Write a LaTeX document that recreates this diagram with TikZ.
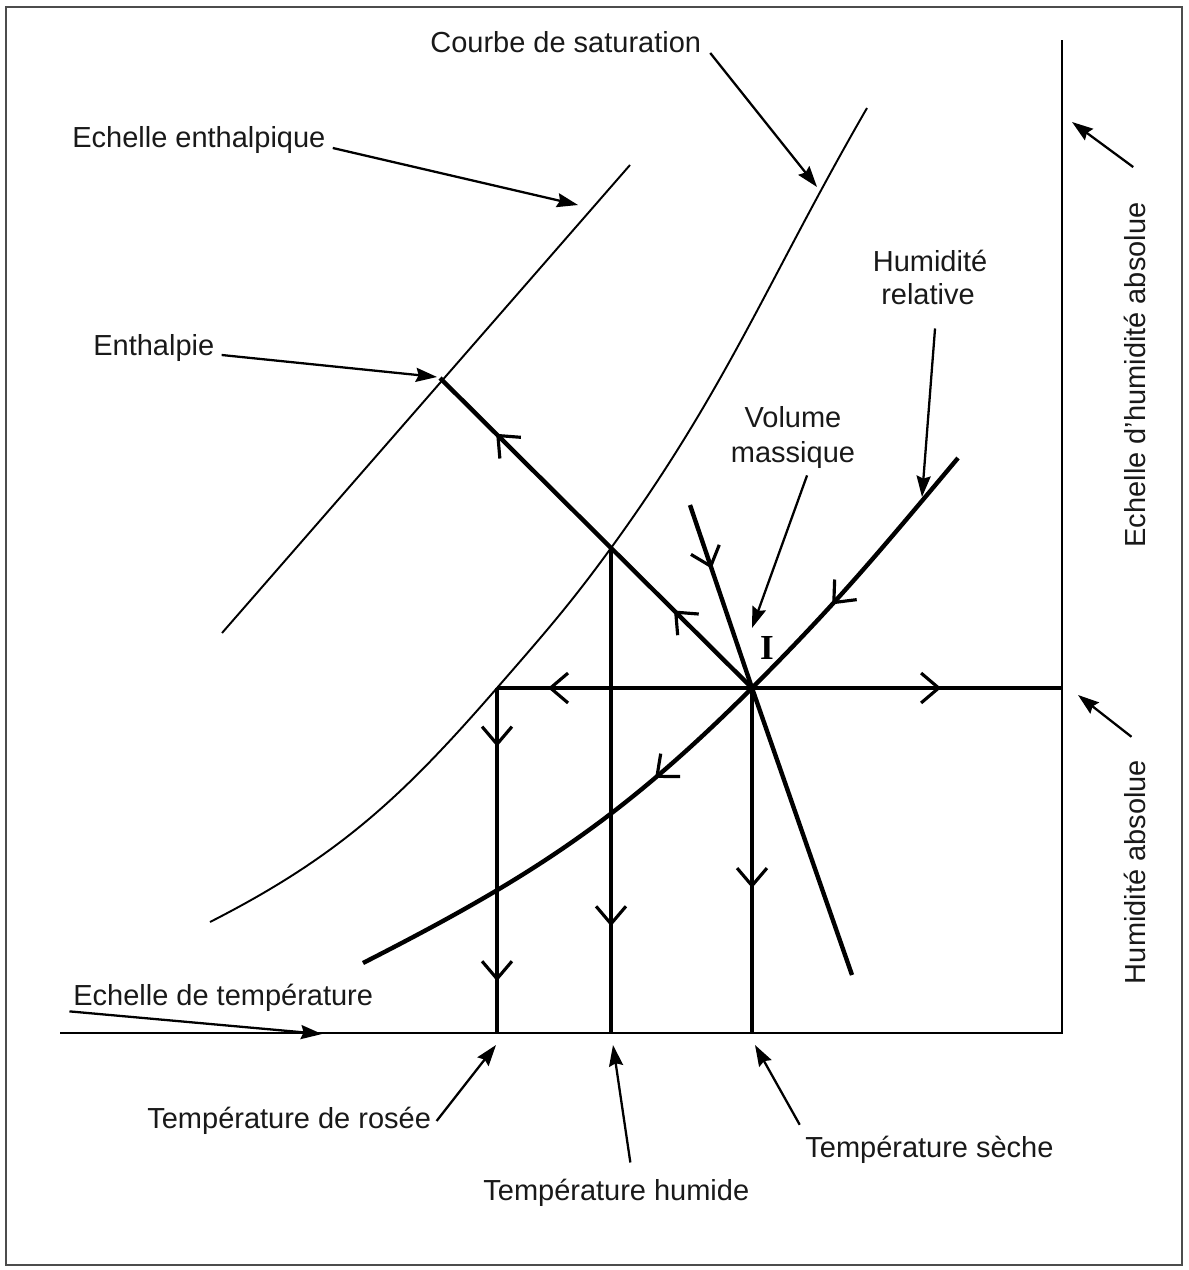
\documentclass[tikz,border=0pt]{standalone}
\usepackage{fontspec}
\setmainfont{Liberation Sans}
\newfontfamily\serifbold{Liberation Serif}
\usetikzlibrary{arrows.meta}
\usetikzlibrary{decorations.markings}

\begin{document}
\begin{tikzpicture}[x = 0.02cm, y = -0.02cm, font = \fontsize{16.5}{19}\selectfont,
	flow/.style = {postaction = {decorate, decoration = {markings, mark = at position #1 with {\arrow{Straight Barb[length = 10pt, width = 17pt, line width = 1.8pt]}}}}}]
	\tikzstyle{thinLine} = [line width = 1.1pt]
	\tikzstyle{thickLine} = [line width = 2.5pt]
	\tikzstyle{pointerStyle} = [line width = 1.3pt, -{Stealth[length = 12pt, width = 8pt, inset = 1.5pt]}]
	\tikzstyle{labelStyle} = [anchor = base west, inner sep = 0pt, text = black!90]
	\useasboundingbox (0,0) rectangle (1188,1270);
	\draw[line width = 1.2pt, black!70] (6,7) rectangle (1182,1265);

	\coordinate (O) at (1062,1033);
	\coordinate (xAxis) at (60,1033);
	\coordinate (yAxis) at (1062,40);
	\coordinate (I) at (752,688);
	\coordinate (E) at (440,378);
	\coordinate (W) at (611,548);
	\coordinate (R) at (497,688);
	\coordinate (A) at (1062,688);
	\coordinate (Rb) at (497,1033);
	\coordinate (Wb) at (611,1033);
	\coordinate (Ib) at (752,1033);
	\coordinate (V0) at (690,505);
	\coordinate (V1) at (852,975);
	\coordinate (H0) at (958,458);
	\coordinate (H1) at (363,963);
	\coordinate (S0) at (210,922);
	\coordinate (S1) at (867,108);
	\coordinate (hs0) at (222,633);
	\coordinate (hs1) at (630,165);
	\coordinate (satMark) at (817,187);
	\coordinate (scaleMark) at (578,205);
	\coordinate (relMark) at (922,497);
	\coordinate (volMark) at (752,628);
	\coordinate (tempMark) at (322,1034);

	\draw[thinLine] (xAxis) -- (O) -- (yAxis);
	\draw[thinLine] (hs0) -- (hs1);
	\draw[thinLine] (S0) to[out = 27, in = 229] (R) to[out = 49, in = 234] (W) to[out = 54, in = 240] (S1);

	\draw[thickLine, flow = 0.25, flow = 0.82] (I) -- (E);
	\draw[thickLine, flow = 0.8] (I) -- (R);
	\draw[thickLine, flow = 0.61] (I) -- (A);
	\draw[thickLine, flow = 0.17, flow = 0.85] (R) -- (Rb);
	\draw[thickLine, flow = 0.78] (W) -- (Wb);
	\draw[thickLine, flow = 0.58] (I) -- (Ib);
	\draw[thickLine, flow = 0.135] (V0) -- (I) -- (V1);
	\draw[thickLine, flow = 0.245, flow = 0.56] (H0) to[out = 230, in = 45] (I) to[out = 225, in = 27] (H1);

	\node[labelStyle] (courbe) at (430,53) {Courbe de saturation};
	\node[labelStyle] (echelleEnth) at (72,148) {Echelle enthalpique};
	\node[labelStyle] (enthalpie) at (93,355) {Enthalpie};
	\node[labelStyle, anchor = base] (humTop) at (930,272) {Humidité};
	\node[labelStyle, anchor = base] (humBot) at (928,305) {relative};
	\node[labelStyle, anchor = base] (volTop) at (793,427) {Volume};
	\node[labelStyle, anchor = base] (volBot) at (793,462) {massique};
	\node[inner sep = 0pt, font = \serifbold\bfseries\fontsize{20}{20}\selectfont] (Ilabel) at (767,648) {I};
	\node[labelStyle, anchor = center, rotate = 90] (echelleHum) at (1135,375) {Echelle d'humidité absolue};
	\node[labelStyle, anchor = center, rotate = 90] (humAbs) at (1135,872) {Humidité absolue};
	\node[labelStyle] (echelleTemp) at (73,1005) {Echelle de température};
	\node[labelStyle] (rosee) at (147,1128) {Température de rosée};
	\node[labelStyle] (humide) at (483,1200) {Température humide};
	\node[labelStyle] (seche) at (805,1157) {Température sèche};

	\draw[pointerStyle] ([xshift = 5pt]courbe.base east) -- (satMark);
	\draw[pointerStyle] ([xshift = 4pt]echelleEnth.base east) -- (scaleMark);
	\draw[pointerStyle] ([xshift = 4pt]enthalpie.base east) -- ([shift = {(-3,-1)}]E);
	\draw[pointerStyle] ([shift = {(4pt,-13pt)}]humBot.south) -- (relMark);
	\draw[pointerStyle] ([shift = {(8pt,-4pt)}]volBot.south) -- (volMark);
	\draw[pointerStyle] ([shift = {(-1pt,20pt)}]echelleHum.east) -- (1072,122);
	\draw[pointerStyle] ([shift = {(-2pt,13pt)}]humAbs.east) -- ([shift = {(16,7)}]A);
	\draw[pointerStyle] ([xshift = -2pt]echelleTemp.south west) -- (tempMark);
	\draw[pointerStyle] ([shift = {(3pt,4pt)}]rosee.base east) -- ([shift = {(-1,12)}]Rb);
	\draw[pointerStyle] ([shift = {(8pt,9pt)}]humide.north) -- ([shift = {(2,12)}]Wb);
	\draw[pointerStyle] ([shift = {(-3pt,6pt)}]seche.north west) -- ([shift = {(3,12)}]Ib);
\end{tikzpicture}
\end{document}
